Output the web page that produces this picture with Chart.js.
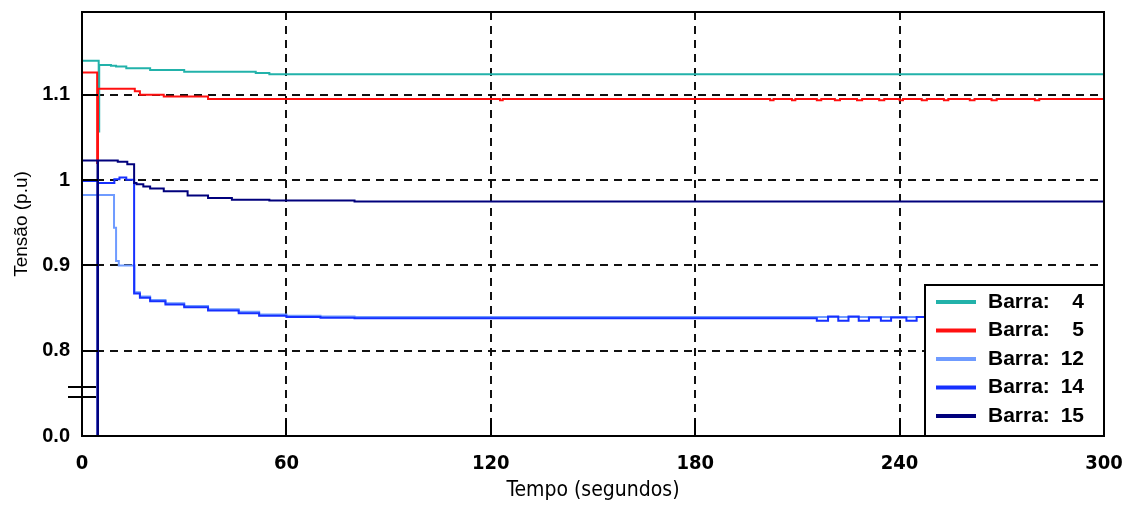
<!DOCTYPE html>
<html>
<head>
<meta charset="utf-8">
<script src="https://cdn.jsdelivr.net/npm/chart.js@4.4.1/dist/chart.umd.min.js"></script>
<style>
  html, body { margin: 0; padding: 0; background: #fff; }
  canvas { display: block; }
</style>
</head>
<body>
<canvas id="myChart" width="1133" height="506"></canvas>
<script>
// buses shown in the legend
var barras = [4, 5, 12, 14, 15];
var cores = ['#22b2aa', '#ff1010', '#6f9bff', '#1630ff', '#00007c'];

// x ticks (seconds) and y ticks (p.u.)  -- 0.7 on the axis is the broken "0.0"
var xTicks = [0, 60, 120, 180, 240, 300];
var yTicks = [0.7, 0.8, 0.9, 1.0, 1.1];
var yTickLabels = ['0.0', '0.8', '0.9', '1', '1.1'];

// Barra 4
var tempo4 = [0, 4.9, 5.05, 8.5, 10, 13, 20, 30, 51, 55, 300];
var tensao4 = [1.140, 1.057, 1.135, 1.134, 1.133, 1.131, 1.129, 1.127, 1.1255, 1.124, 1.124];

// Barra 5
var tempo5 = [0, 4.45, 4.7, 15.5, 17, 24, 37, 122.7, 123.5, 202, 203, 208.4, 209.4, 215.7, 217,
  221, 222.5, 227.5, 229, 234, 235.5, 240, 241, 246.5, 248, 253, 254.3, 260.6, 262, 267, 268.5,
  279.7, 281, 300];
var tensao5 = [1.126, 1.02, 1.107, 1.104, 1.100, 1.098, 1.095, 1.0935, 1.095, 1.0935, 1.095, 1.0935, 1.095, 1.0935, 1.095,
  1.0935, 1.095, 1.0935, 1.095, 1.0935, 1.095, 1.0935, 1.095, 1.0935, 1.095, 1.0935, 1.095, 1.0935, 1.095, 1.0935, 1.095,
  1.0935, 1.095, 1.095];

// Barra 12
var tempo12 = [0, 9.4, 10.0, 10.8, 15.4, 17, 20, 24.5, 30, 37, 46, 52, 60, 70, 80, 250];
var tensao12 = [0.9825, 0.944, 0.905, 0.900, 0.8685, 0.8635, 0.8595, 0.8555, 0.8525, 0.8485, 0.8455, 0.8425, 0.841, 0.840, 0.8395, 0.8395];

// Barra 14
var tempo14 = [0, 4.55, 4.7, 9.5, 11, 13, 15.3, 17, 20, 24.5, 30, 37, 46, 52, 60, 70, 80,
  215.7, 219, 222, 225, 228, 231, 234.5, 237.5, 242, 245, 248, 300];
var tensao14 = [0.999, 0, 0.9967, 1.001, 1.003, 1.0005, 0.867, 0.862, 0.858, 0.854, 0.851, 0.847, 0.844, 0.841, 0.8395, 0.8385, 0.838,
  0.835, 0.840, 0.835, 0.840, 0.835, 0.839, 0.835, 0.839, 0.835, 0.8395, 0.838, 0.838];

// Barra 15
var tempo15 = [0, 4.55, 4.7, 10.5, 13.3, 15.3, 16, 18, 20, 24, 31, 37, 44, 55, 80, 300];
var tensao15 = [1.023, 0, 1.023, 1.0215, 1.0185, 0.9965, 0.995, 0.9925, 0.990, 0.987, 0.982, 0.979, 0.977, 0.976, 0.975, 0.975];

var tempos = [tempo4, tempo5, tempo12, tempo14, tempo15];
var tensoes = [tensao4, tensao5, tensao12, tensao14, tensao15];

// values below 0.8 are squeezed into the broken part of the axis (0.0 .. 0.8 -> 0.7 .. 0.8)
function eixo(v) {
  return v >= 0.8 ? v : 0.7 + v * 0.125;
}

var datasets = barras.map(function(b, i) {
  return {
    label: 'Barra: ' + b,
    data: tempos[i].map(function(t, j) { return { x: t, y: eixo(tensoes[i][j]) }; }),
    borderColor: cores[i],
    backgroundColor: cores[i],
    borderWidth: 2,
    stepped: 'before',
    pointRadius: 0,
    fill: false,
    order: barras.length - i
  };
});

var molduraPlugin = {
  id: 'moldura',
  afterDatasetsDraw: function(chart) {
    var c = chart.ctx;
    var a = chart.chartArea;
    var sx = chart.scales.x, sy = chart.scales.y;
    c.save();
    c.strokeStyle = '#000';
    c.lineWidth = 2;
    c.setLineDash([]);
    // inward ticks
    c.beginPath();
    yTicks.slice(1).forEach(function(v) {
      var p = Math.round(sy.getPixelForValue(v));
      c.moveTo(a.left, p); c.lineTo(a.left + 16, p);
    });
    xTicks.slice(1, -1).forEach(function(v) {
      var p = Math.round(sx.getPixelForValue(v));
      c.moveTo(p, a.bottom); c.lineTo(p, a.bottom - 16);
    });
    c.stroke();
    // frame
    c.strokeRect(a.left, a.top, a.right - a.left, a.bottom - a.top);
    // axis break
    c.beginPath();
    [0.758, 0.746].forEach(function(v) {
      var p = Math.round(sy.getPixelForValue(v));
      c.moveTo(a.left - 14, p); c.lineTo(a.left + 14, p);
    });
    c.stroke();

    // legend box
    var w = 179, h = 151;
    var lx = a.right - w, ly = a.bottom - h;
    c.fillStyle = '#fff';
    c.fillRect(lx, ly, w, h);
    c.strokeRect(lx, ly, w, h);
    c.font = 'bold 21px "Liberation Sans", Arial, sans-serif';
    c.textBaseline = 'middle';
    chart.data.datasets.forEach(function(ds, i) {
      var yy = ly + 17 + i * 28.5;
      c.strokeStyle = ds.borderColor;
      c.lineWidth = 4;
      c.beginPath();
      c.moveTo(lx + 11, yy); c.lineTo(lx + 51, yy);
      c.stroke();
      c.fillStyle = '#000';
      c.textAlign = 'left';
      c.fillText('Barra:', lx + 63, yy);
      c.textAlign = 'right';
      c.fillText(String(barras[i]), lx + 159, yy);
    });
    c.restore();
  }
};

var ctx = document.getElementById('myChart').getContext('2d');

var myChart = new Chart(ctx, {
  type: 'line',
  data: { datasets: datasets },
  options: {
    responsive: false,
    animation: false,
    layout: { padding: { top: 12, right: 29, left: 0, bottom: 0 } },
    plugins: {
      legend: { display: false },
      tooltip: { enabled: false }
    },
    scales: {
      x: {
        type: 'linear',
        min: 0,
        max: 300,
        afterBuildTicks: function(s) { s.ticks = xTicks.map(function(v) { return { value: v }; }); },
        afterFit: function(s) { s.height = 70; s.paddingLeft = 0; s.paddingRight = 0; },
        ticks: {
          color: '#000',
          padding: 16,
          maxRotation: 0,
          font: { family: '"Liberation Sans Narrow", "DejaVu Sans Condensed", "Liberation Sans", sans-serif', size: 20, weight: 'bold' }
        },
        grid: {
          drawTicks: false,
          lineWidth: 2,
          color: function(c) {
            var v = c.tick && c.tick.value;
            return (v === 0 || v === 300) ? 'rgba(0,0,0,0)' : '#111';
          }
        },
        border: { display: false, dash: [8, 6] },
        title: {
          display: true,
          text: 'Tempo (segundos)',
          color: '#000',
          padding: { top: 0, bottom: 3 },
          font: { family: '"Liberation Sans Narrow", "DejaVu Sans Condensed", "Liberation Sans", sans-serif', size: 21 }
        }
      },
      y: {
        type: 'linear',
        min: 0.7,
        max: 1.197,
        afterBuildTicks: function(s) { s.ticks = yTicks.map(function(v) { return { value: v }; }); },
        afterFit: function(s) { s.width = 82; s.paddingTop = 0; s.paddingBottom = 0; },
        ticks: {
          color: '#000',
          padding: 12,
          callback: function(v) {
            var k = yTicks.findIndex(function(t) { return Math.abs(t - v) < 1e-6; });
            return k >= 0 ? yTickLabels[k] : '';
          },
          font: { family: '"Liberation Sans", Arial, sans-serif', size: 20, weight: 'bold' }
        },
        grid: {
          drawTicks: false,
          lineWidth: 2,
          color: function(c) {
            var v = c.tick && c.tick.value;
            return (Math.abs(v - 0.7) < 1e-6) ? 'rgba(0,0,0,0)' : '#111';
          }
        },
        border: { display: false, dash: [8, 6] },
        title: {
          display: true,
          text: 'Tensão (p.u)',
          color: '#000',
          padding: { top: 10, bottom: 0 },
          font: { family: '"Liberation Sans", Arial, sans-serif', size: 19 }
        }
      }
    }
  },
  plugins: [molduraPlugin]
});
</script>
</body>
</html>
